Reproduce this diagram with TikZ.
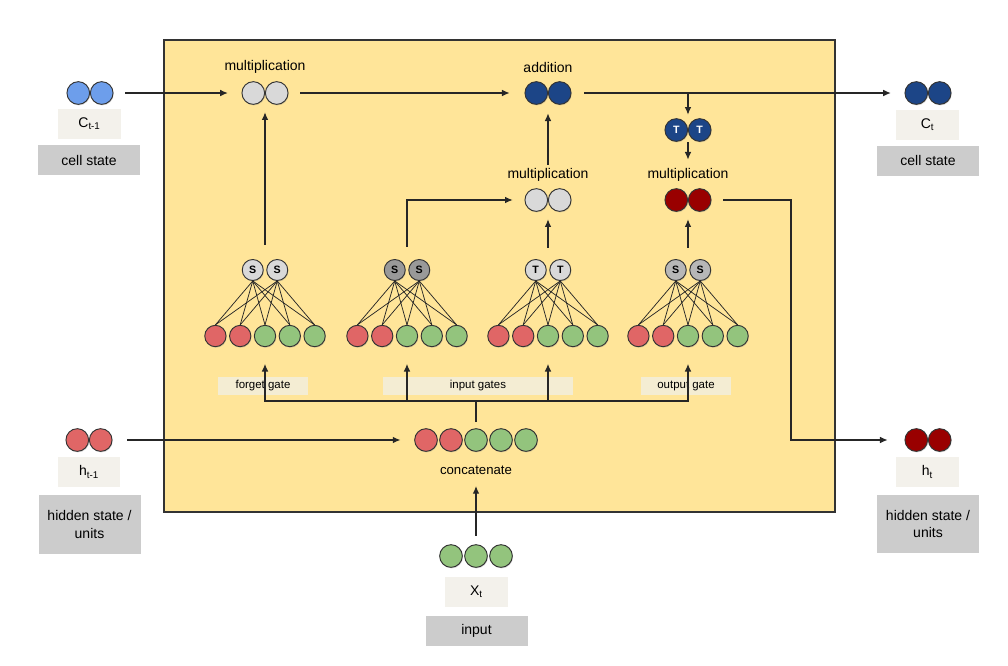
\documentclass[tikz,border=0pt]{standalone}
\usepackage{fontspec}
\setmainfont{Liberation Sans}
\usetikzlibrary{arrows.meta,shadows}

\definecolor{cellyellow}{HTML}{FFE599}
\definecolor{cblue}{HTML}{6D9EEB}
\definecolor{navy}{HTML}{1C4587}
\definecolor{hred}{HTML}{E06666}
\definecolor{xgreen}{HTML}{93C47D}
\definecolor{dred}{HTML}{990000}
\definecolor{lgray}{HTML}{D9D9D9}
\definecolor{mgray}{HTML}{B7B7B7}
\definecolor{dgray}{HTML}{999999}
\definecolor{namefill}{HTML}{F3F1EB}
\definecolor{rolefill}{HTML}{CCCCCC}
\definecolor{gatefill}{HTML}{F4EDD3}

\tikzset{
  flow/.style={draw=black!85, line width=0.95pt, ->},
  wire/.style={draw=black!85, line width=0.55pt},
  dot/.style={circle, draw=black!80, line width=0.7pt, minimum size=17pt, inner sep=0pt,
    drop shadow={shadow xshift=0.5pt, shadow yshift=-0.8pt, opacity=0.3},
    font=\fontsize{8}{8}\selectfont\bfseries},
  gdot/.style={dot, minimum size=16pt},
  duobox/.style={minimum width=35.25pt, minimum height=17.25pt, inner sep=0pt},
  rowbox/.style={minimum width=91pt, minimum height=16.5pt, inner sep=0pt},
  lab/.style={font=\fontsize{10.5}{12}\selectfont, inner sep=1pt},
  namebox/.style={fill=namefill, minimum width=47pt, minimum height=22.5pt, inner sep=0pt,
    font=\fontsize{10.5}{12}\selectfont},
  rolebox/.style={fill=rolefill, minimum width=76.5pt, minimum height=22.5pt, inner sep=0pt,
    align=center, font=\fontsize{10.5}{13}\selectfont},
  gatelab/.style={fill=gatefill, minimum width=67.5pt, minimum height=13.5pt, inner sep=0pt,
    font=\fontsize{8.6}{10}\selectfont},
  cellbox/.style={draw=black!80, line width=1.1pt, fill=cellyellow,
    minimum width=503.25pt, minimum height=354pt, inner sep=0pt,
    drop shadow={shadow xshift=1pt, shadow yshift=-1pt, opacity=0.35}},
}

% two dots side by side: name, x, y, colour, letter
\newcommand{\pairdots}[5]{%
  \node[duobox] (#1) at (#2,#3) {};
  \node[dot, fill=#4] (#1-1) at ([xshift=-8.8pt]#1.center) {#5};
  \node[dot, fill=#4] (#1-2) at ([xshift=8.8pt]#1.center) {#5};
}

% one gate: name, x, colour, letter
\newcommand{\gatenet}[4]{%
  \node[rowbox] (#1-in) at (#2,336) {};
  \node[duobox] (#1-out) at (#2,270) {};
  \foreach \k/\c in {1/hred,2/hred,3/xgreen,4/xgreen,5/xgreen}
    \node[gdot, fill=\c] (#1-b\k) at ([xshift={(\k-3)*18.6pt}]#1-in.center) {};
  \foreach \k in {1,2}
    \node[gdot, minimum size=15.75pt, fill=#3] (#1-t\k) at ([xshift={(\k-1.5)*18.4pt}]#1-out.center) {#4};
  \foreach \k in {1,2}
    \foreach \j in {1,...,5}
      \draw[wire] (#1-t\k.south) -- (#1-b\j.north);
}

\begin{document}
\begin{tikzpicture}[x=0.75pt, y=-0.75pt, >={Latex[length=5.8pt,width=5pt]}]
  \useasboundingbox (0,0) rectangle (1008,665);

  \node[cellbox] (cell) at (499.5,276) {};

  % outside: states and input
  \pairdots{cp}{90}{93}{cblue}{}
  \node[namebox] (cp-name) at (89.5,124) {C\textsubscript{t-1}};
  \node[rolebox] (cp-role) at (89,160) {cell state};

  \pairdots{hp}{89}{440}{hred}{}
  \node[namebox] (hp-name) at (89,472) {h\textsubscript{t-1}};
  \node[rolebox, minimum height=44pt] (hp-role) at (89.5,524.5) {hidden state /\\units};

  \pairdots{ct}{928}{93}{navy}{}
  \node[namebox] (ct-name) at (927.5,125) {C\textsubscript{t}};
  \node[rolebox] (ct-role) at (928,160.5) {cell state};

  \pairdots{ht}{928}{440}{dred}{}
  \node[namebox] (ht-name) at (927.5,472) {h\textsubscript{t}};
  \node[rolebox, minimum height=44pt] (ht-role) at (928,524) {hidden state /\\units};

  \node[rowbox, minimum width=54pt] (xin) at (476,556) {};
  \foreach \k in {1,2,3}
    \node[dot, fill=xgreen] (xin-\k) at ([xshift={(\k-2)*18.75pt}]xin.center) {};
  \node[namebox] (xin-name) at (476.5,592) {X\textsubscript{t}};
  \node[rolebox] (xin-role) at (476.5,630.5) {input};

  % inside the cell
  \node[lab] (mf-lab) at (265,67) {multiplication};
  \pairdots{mf}{265}{93}{lgray}{}
  \node[lab] (add-lab) at (548,67) {addition};
  \pairdots{add}{548}{93}{navy}{}
  \pairdots{tanh}{688}{130}{navy}{\textcolor{white}{T}}
  \node[lab] (mi-lab) at (548,175) {multiplication};
  \pairdots{mi}{548}{200}{lgray}{}
  \node[lab] (mo-lab) at (688,175) {multiplication};
  \pairdots{mo}{688}{200}{dred}{}

  \gatenet{f}{265}{lgray}{S}
  \gatenet{i}{407}{dgray}{S}
  \gatenet{c}{548}{lgray}{T}
  \gatenet{o}{688}{mgray}{S}

  \node[gatelab] (f-lab) at (263,386) {forget gate};
  \node[gatelab, minimum width=142.5pt] (i-lab) at (478,386) {input gates};
  \node[gatelab] (o-lab) at (686,386) {output gate};

  \node[rowbox] (cat) at (476,440) {};
  \foreach \k/\c in {1/hred,2/hred,3/xgreen,4/xgreen,5/xgreen}
    \node[dot, fill=\c] (cat-\k) at ([xshift={(\k-3)*18.75pt}]cat.center) {};
  \node[lab, font=\fontsize{9.9}{12}\selectfont] (cat-lab) at (476,470) {concatenate};

  % connectors
  \coordinate (split) at (688,93);
  \coordinate (hturn) at (791,200);
  \coordinate (bus) at (476,401);

  \draw[flow, shorten <=8.6pt, shorten >=10pt] (cp) -- (mf);
  \draw[flow, shorten <=8.6pt, shorten >=10.9pt] (mf) -- (add);
  \draw[flow, shorten <=9.4pt, shorten >=10pt] (add) -- (ct);
  \draw[flow, shorten >=2.6pt] (split) -- (tanh);
  \draw[flow, shorten <=0.5pt, shorten >=21.4pt] (tanh) -- (mo);
  \draw[flow, shorten <=17.6pt, shorten >=6.4pt] (mi) -- (add);
  \draw[flow, shorten <=10pt, shorten >=5.6pt] (f-out) -- (mf);
  \draw[flow, shorten <=8.6pt, shorten >=8.6pt] (i-out) |- (mi);
  \draw[flow, shorten <=7.9pt, shorten >=5.6pt] (c-out) -- (mi);
  \draw[flow, shorten <=7.9pt, shorten >=5.6pt] (o-out) -- (mo);
  \draw[flow, shorten <=8.6pt, shorten >=12.4pt] (mo) -- (hturn) |- (ht);
  \draw[flow, shorten <=10.9pt, shorten >=10.9pt] (hp) -- (cat);
  \draw[flow, -, shorten <=5pt] (cat) -- (bus);
  \foreach \g in {f,i,c,o}
    \draw[flow, shorten >=12.4pt] (bus) -| (\g-in);
  \draw[flow, shorten <=6.75pt, shorten >=26pt] (xin) -- (cat);
\end{tikzpicture}
\end{document}
